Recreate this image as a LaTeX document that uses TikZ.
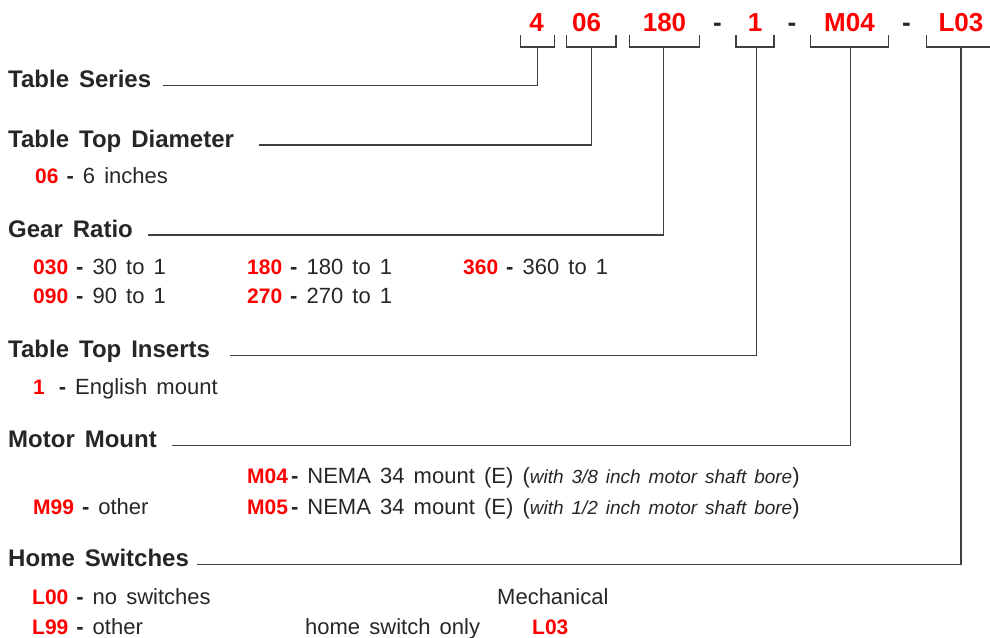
\documentclass[tikz,border=0pt]{standalone}
\usepackage{fontspec}
\setmainfont{Liberation Sans}[WordSpace=1.5]
\usetikzlibrary{positioning}
\definecolor{cred}{rgb}{1, 0, 0}
\definecolor{lgray}{rgb}{0.25, 0.25, 0.25}
\tikzset{lead/.style = {draw=lgray, line width=1.4}}
\tikzset{head/.style = {anchor=base west, inner sep=0,
                        font=\fontsize{24}{28}\selectfont\bfseries, text=black!85}}
\tikzset{item/.style = {anchor=base west, inner sep=0,
                        font=\fontsize{22}{26}\selectfont, text=black!85}}
\tikzset{code/.style = {anchor=base, inner sep=0,
                        font=\fontsize{26}{30}\selectfont\bfseries, text=cred}}
\newcommand{\cd}[1]{\textcolor{cred}{\fontsize{21}{26}\selectfont\bfseries #1}}
\newcommand{\dsh}{\hspace{8pt}\textbf{-}\hspace{9pt}}

\begin{document}
\begin{tikzpicture}[x=1pt, y=-1pt]
      \useasboundingbox (0, 0) rectangle (990, 637);

      % part number
      \node [code] (c4)   at (536.5, 31) {4};
      \node [code] (c06)  at (586.5, 31) {06};
      \node [code] (c180) at (664.5, 31) {180};
      \node [code, text=black!85] (d1) at (717.5, 31) {-};
      \node [code] (c1)   at (755, 31) {1};
      \node [code, text=black!85] (d2) at (792, 31) {-};
      \node [code] (cM04) at (849.5, 31) {M04};
      \node [code, text=black!85] (d3) at (906.5, 31) {-};
      \node [code] (cL03) at (961, 31) {L03};

      % brackets
      \draw [lead] (520.7, 35) |- (554.3, 47) -- (554.3, 35);
      \draw [lead] (566.7, 35) |- (616, 47) -- (616, 35);
      \draw [lead] (629.3, 35) |- (699.3, 47) -- (699.3, 35);
      \draw [lead] (736, 35) |- (774, 47) -- (774, 35);
      \draw [lead] (810.7, 35) |- (888.3, 47) -- (888.3, 35);
      \draw [lead] (926.7, 35) |- (995, 47);

      \coordinate (s4)   at (537.7, 47);
      \coordinate (s06)  at (591.7, 47);
      \coordinate (s180) at (663.3, 47);
      \coordinate (s1)   at (756.7, 47);
      \coordinate (sM04) at (850.5, 47);
      \coordinate (sL03) at (961, 47);

      % headings
      \node [head] (series)   at (8, 87.7)  {Table Series};
      \node [head] (diameter) at (8, 147)   {Table Top Diameter};
      \node [head] (ratio)    at (8, 237)   {Gear Ratio};
      \node [head] (inserts)  at (8, 357.7) {Table Top Inserts};
      \node [head] (mount)    at (8, 447.7) {Motor Mount};
      \node [head] (switches) at (8, 566.7) {Home Switches};

      \coordinate (series-l)   at (163.3, 85.7);
      \coordinate (diameter-l) at (259.3, 145);
      \coordinate (ratio-l)    at (148.3, 235);
      \coordinate (inserts-l)  at (230, 355.7);
      \coordinate (mount-l)    at (172, 445.7);
      \coordinate (switches-l) at (197, 564.7);

      \draw [lead] (series-l) -| (s4);
      \draw [lead] (diameter-l) -| (s06);
      \draw [lead] (ratio-l) -| (s180);
      \draw [lead] (inserts-l) -| (s1);
      \draw [lead] (mount-l) -| (sM04);
      \draw [lead] (switches-l) -| (sL03);

      % options
      \node [item] (o06)  at (35, 183.3) {\cd{06}\dsh 6 inches};

      \node [item] (o030) at (33, 274)  {\cd{030}\dsh 30 to 1};
      \node [item] (o090) at (33, 303)  {\cd{090}\dsh 90 to 1};
      \node [item] (o180) at (247, 274) {\cd{180}\dsh 180 to 1};
      \node [item] (o270) at (247, 303) {\cd{270}\dsh 270 to 1};
      \node [item] (o360) at (463, 274) {\cd{360}\dsh 360 to 1};

      \node [item] (oi1)  at (33, 394)  {\cd{1}\hspace{6pt}\dsh English mount};

      \node [item] (oM04) at (247, 483) {\cd{M04}\hspace{3pt}\textbf{-}\hspace{9pt}NEMA 34 mount (E) (\textit{\fontsize{19}{24}\selectfont with 3/8 inch motor shaft bore})};
      \node [item] (oM05) at (247, 514) {\cd{M05}\hspace{3pt}\textbf{-}\hspace{9pt}NEMA 34 mount (E) (\textit{\fontsize{19}{24}\selectfont with 1/2 inch motor shaft bore})};
      \node [item] (oM99) at (33, 514)  {\cd{M99}\dsh other};

      \node [item] (oL00) at (32, 604) {\cd{L00}\dsh no switches};
      \node [item] (oL99) at (32, 634) {\cd{L99}\dsh other};
      \node [item] (mech) at (497, 604) {Mechanical};
      \node [item] (only) at (305, 634) {home switch only};
      \node [item] (oL03) at (532, 634) {\cd{L03}};
    \end{tikzpicture}
\end{document}
